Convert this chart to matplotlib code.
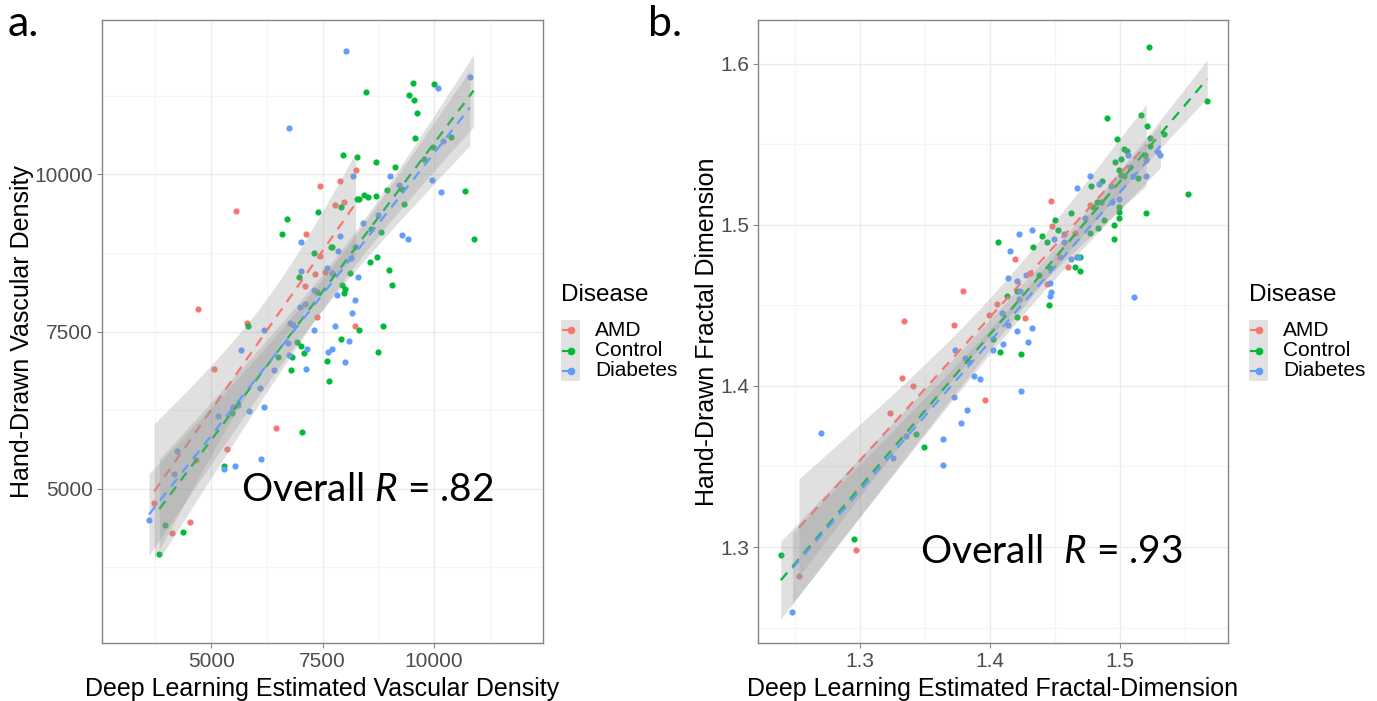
import numpy as np
import matplotlib
matplotlib.use('Agg')
import matplotlib.pyplot as plt
from matplotlib.lines import Line2D
from matplotlib.patches import Rectangle

plt.rcParams['font.family'] = ['Liberation Sans', 'DejaVu Sans']
plt.rcParams['mathtext.fontset'] = 'custom'
plt.rcParams['mathtext.rm'] = 'Lato'
plt.rcParams['mathtext.it'] = 'Lato:italic'

groups = ['AMD', 'Control', 'Diabetes']
colors = ['#F8766D', '#00BA38', '#619CFF']

# panel a: vascular density (deep learning vs hand drawn)
amd_vd_dl = [8243, 7898, 7439, 5547, 7777, 7973, 7133, 7448, 7342, 7545, 7101, 4714, 5804,
             7387, 8227, 5068, 6464, 5360, 4662, 3723, 4113, 4527]
amd_vd_hd = [10063, 9899, 9820, 9417, 9512, 9555, 9042, 8693, 8412, 8439, 8222, 7861, 7639,
             7730, 7592, 6904, 5968, 5630, 5460, 4773, 4297, 4471]
ctl_vd_dl = [9527, 10007, 8469, 9449, 9556, 9632, 9577, 10382, 9970, 9780, 7950, 8265, 8709,
             9121, 8941, 9287, 9324, 10691, 10893, 8430, 8520, 8700, 8281, 8318, 7921, 7394,
             6696, 6583, 8596, 8822, 7697, 7720, 7304, 8123, 6970, 8558, 8716, 8993, 9069,
             7943, 8002, 7973, 7380, 8851, 8310, 5817, 7905, 6930, 7011, 7087, 6817, 6493,
             6795, 7597, 7657, 8738, 7034, 5473, 5293, 4376, 3971, 3836]
ctl_vd_hd = [11448, 11427, 11300, 11252, 11184, 10978, 10575, 10586, 10428, 10248, 10306,
             10274, 10190, 10115, 9756, 9761, 9523, 9740, 8968, 9677, 9640, 9650, 9598, 9598,
             9482, 9392, 9285, 9052, 9126, 9089, 8836, 8836, 8746, 8423, 8370, 8608, 8677,
             8471, 8233, 8243, 8169, 8106, 8132, 7582, 7523, 7587, 7376, 7338, 7269, 7153,
             7095, 7090, 6888, 7026, 6714, 7169, 5909, 6206, 5365, 4307, 4418, 3957]
dia_vd_dl = [8018, 6757, 10810, 10083, 8175, 10195, 9009, 9219, 9948, 10157, 8738, 8400, 7898,
             7020, 7838, 8220, 9287, 9414, 7027, 7597, 7709, 8137, 8288, 7320, 7815, 8236,
             7004, 7117, 8160, 6779, 6847, 6187, 7313, 7777, 5676, 6734, 6750, 6403, 7162,
             7628, 7709, 8092, 8002, 7124, 6097, 5480, 5608, 5164, 5840, 6194, 6119, 5540,
             5286, 4234, 4167, 3604]
dia_vd_hd = [11951, 10734, 11543, 11375, 9967, 10523, 9967, 9835, 9914, 9724, 9348, 9231,
             9025, 8925, 8787, 8845, 9036, 8968, 8460, 8513, 8428, 8661, 8360, 8158, 8084,
             8000, 7883, 7931, 7788, 7640, 7602, 7530, 7530, 7593, 7211, 7312, 7131, 6888,
             7216, 7174, 7226, 7342, 7020, 6908, 6608, 6297, 6338, 6154, 6243, 6297, 5476,
             5360, 5313, 5603, 5238, 4497]

# panel b: fractal dimension
amd_fd_dl = [1.447, 1.448, 1.419, 1.465, 1.454, 1.460, 1.477, 1.520, 1.431, 1.444, 1.379,
             1.399, 1.405, 1.427, 1.372, 1.334, 1.332, 1.341, 1.323, 1.396, 1.297, 1.253]
amd_fd_hd = [1.515, 1.499, 1.479, 1.495, 1.480, 1.474, 1.512, 1.540, 1.470, 1.463, 1.459,
             1.444, 1.451, 1.442, 1.438, 1.440, 1.405, 1.400, 1.383, 1.391, 1.298, 1.282]
ctl_fd_dl = [1.522, 1.567, 1.490, 1.516, 1.521, 1.523, 1.534, 1.498, 1.503, 1.505, 1.496,
             1.501, 1.499, 1.501, 1.503, 1.523, 1.519, 1.514, 1.486, 1.478, 1.479, 1.482,
             1.485, 1.488, 1.483, 1.477, 1.499, 1.499, 1.499, 1.495, 1.495, 1.520, 1.552,
             1.462, 1.450, 1.452, 1.440, 1.444, 1.433, 1.406, 1.467, 1.469, 1.465, 1.469,
             1.446, 1.438, 1.413, 1.421, 1.445, 1.421, 1.4025, 1.408, 1.424, 1.343, 1.349,
             1.295, 1.239]
ctl_fd_hd = [1.610, 1.577, 1.566, 1.568, 1.561, 1.554, 1.556, 1.553, 1.547, 1.546, 1.539,
             1.541, 1.534, 1.531, 1.530, 1.549, 1.543, 1.529, 1.527, 1.524, 1.511, 1.514,
             1.514, 1.503, 1.498, 1.495, 1.511, 1.508, 1.504, 1.500, 1.491, 1.507, 1.519,
             1.507, 1.503, 1.497, 1.493, 1.489, 1.486, 1.489, 1.480, 1.480, 1.474, 1.471,
             1.473, 1.469, 1.456, 1.459, 1.450, 1.443, 1.429, 1.421, 1.420, 1.370, 1.362,
             1.305, 1.295]
dia_fd_dl = [1.511, 1.520, 1.531, 1.529, 1.506, 1.508, 1.510, 1.484, 1.493, 1.499, 1.494,
             1.477, 1.467, 1.473, 1.457, 1.457, 1.449, 1.432, 1.422, 1.415, 1.462, 1.468,
             1.428, 1.421, 1.414, 1.446, 1.447, 1.446, 1.423, 1.422, 1.409, 1.414, 1.421,
             1.432, 1.410, 1.429, 1.373, 1.381, 1.384, 1.402, 1.424, 1.388, 1.392, 1.372,
             1.382, 1.378, 1.364, 1.364, 1.335, 1.325, 1.270, 1.248]
dia_fd_hd = [1.455, 1.530, 1.543, 1.545, 1.543, 1.536, 1.530, 1.525, 1.524, 1.516, 1.514,
             1.530, 1.523, 1.504, 1.494, 1.489, 1.491, 1.497, 1.494, 1.484, 1.479, 1.480,
             1.469, 1.465, 1.467, 1.464, 1.458, 1.456, 1.459, 1.454, 1.445, 1.438, 1.434,
             1.436, 1.426, 1.427, 1.422, 1.417, 1.415, 1.422, 1.397, 1.406, 1.404, 1.393,
             1.385, 1.377, 1.367, 1.351, 1.369, 1.355, 1.371, 1.260]

vd_ticks = [5000, 7500, 10000]
vd_labels = ['5000', '7500', '10000']
fd_ticks = [1.3, 1.4, 1.5, 1.6]
fd_labels = ['1.3', '1.4', '1.5', '1.6']

W, H = 1377, 701


def t975(df):
    # Cornish-Fisher approx of t quantile
    z = 1.959964
    return z + (z**3 + z) / (4 * df) + (5 * z**5 + 16 * z**3 + 3 * z) / (96 * df**2)


def smooth(ax, x, y, color, k):
    x = np.asarray(x, float)
    y = np.asarray(y, float)
    n = len(x)
    b, a = np.polyfit(x, y, 1)
    xs = np.linspace(x.min(), x.max(), 80)
    fit = a + b * xs
    s = np.sqrt(((y - (a + b * x))**2).sum() / (n - 2))
    se = s * np.sqrt(1 / n + (xs - x.mean())**2 / ((x - x.mean())**2).sum())
    t = t975(n - 2)
    ax.fill_between(xs, fit - t * se, fit + t * se, color='#999999', alpha=0.3, lw=0,
                    zorder=3 + 2 * k)
    ax.plot(xs, fit, color=color, lw=1.6, dashes=(4.5, 3.5), zorder=4 + 2 * k)


def style(ax, xt, xl, yt, yl, xminor, yminor):
    ax.set_xticks(xt)
    ax.set_xticklabels(xl)
    ax.set_yticks(yt)
    ax.set_yticklabels(yl)
    ax.set_xticks(xminor, minor=True)
    ax.set_yticks(yminor, minor=True)
    ax.grid(which='major', color='#ebebeb', lw=1.0, zorder=0)
    ax.grid(which='minor', color='#f4f4f4', lw=0.8, zorder=0)
    ax.set_axisbelow(True)
    ax.tick_params(which='major', length=3.5, width=0.8, color='#8a8a8a',
                   labelsize=15, labelcolor='#4d4d4d', pad=3)
    ax.tick_params(which='minor', length=0)
    for sp in ax.spines.values():
        sp.set_color('#858585')
        sp.set_linewidth(1.0)


def legend(x0):
    fx = lambda p: p / W
    fy = lambda p: 1 - p / H
    fig.text(fx(x0), fy(295), 'Disease', fontsize=17.5, va='center', ha='left')
    fig.add_artist(Rectangle((fx(x0), fy(381)), 19 / W, 61 / H, transform=fig.transFigure,
                             facecolor='#d9d9d9', edgecolor='none', alpha=0.75))
    for i, g in enumerate(groups):
        yy = 330 + 20.5 * i
        fig.add_artist(Line2D([fx(x0 + 2), fx(x0 + 12)], [fy(yy), fy(yy)], color=colors[i],
                              lw=1.5, transform=fig.transFigure))
        fig.add_artist(Line2D([fx(x0 + 10)], [fy(yy)], marker='o', markersize=4.5,
                              color=colors[i], lw=0, transform=fig.transFigure))
        fig.text(fx(x0 + 34), fy(yy), g, fontsize=15, va='center', ha='left')


fig = plt.figure(figsize=(13.77, 7.01), dpi=100)
axA = fig.add_axes([102 / W, 1 - 643 / H, 441 / W, 623 / H])
axB = fig.add_axes([758 / W, 1 - 643 / H, 470 / W, 623 / H])

vd = [(amd_vd_dl, amd_vd_hd), (ctl_vd_dl, ctl_vd_hd), (dia_vd_dl, dia_vd_hd)]
fd = [(amd_fd_dl, amd_fd_hd), (ctl_fd_dl, ctl_fd_hd), (dia_fd_dl, dia_fd_hd)]

for ax, data in [(axA, vd), (axB, fd)]:
    for k, (x, y) in enumerate(data):
        ax.scatter(x, y, s=20, color=colors[k], linewidths=0, zorder=2)
    for k, (x, y) in enumerate(data):
        smooth(ax, x, y, colors[k], k)

axA.set_xlim(2550, 12450)
axA.set_ylim(2550, 12450)
style(axA, vd_ticks, vd_labels, vd_ticks, vd_labels,
      [3750, 6250, 8750, 11250], [3750, 6250, 8750, 11250])
axA.set_xlabel('Deep Learning Estimated Vascular Density', fontsize=18)
axA.set_ylabel('Hand-Drawn Vascular Density', fontsize=18)
axA.xaxis.set_label_coords(0.5, -0.074)
axA.xaxis.label.set_va('center')
axA.yaxis.set_label_coords(-0.181, 0.5)
axA.yaxis.label.set_va('center')
axA.text(8513, 4984, r'Overall $R$ = .82', fontsize=28, family='Lato', ha='center',
         va='center', zorder=20)

axB.set_xlim(1.2215, 1.583)
axB.set_ylim(1.2405, 1.627)
style(axB, fd_ticks[:3], fd_labels[:3], fd_ticks, fd_labels,
      [1.25, 1.35, 1.45, 1.55], [1.25, 1.35, 1.45, 1.55])
axB.set_xlabel('Deep Learning Estimated Fractal-Dimension', fontsize=18)
axB.set_ylabel('Hand-Drawn Fractal Dimension', fontsize=18)
axB.xaxis.set_label_coords(0.5, -0.074)
axB.xaxis.label.set_va('center')
axB.yaxis.set_label_coords(-0.1085, 0.5)
axB.yaxis.label.set_va('center')
axB.text(1.447, 1.297, r'Overall  $R$ = .93', fontsize=28, family='Lato', ha='center',
         va='center', zorder=20)

legend(561)
legend(1249)

fig.text(8 / W, 1 - 24 / H, 'a.', fontsize=31, family='Lato', va='center', ha='left')
fig.text(648 / W, 1 - 24 / H, 'b.', fontsize=31, family='Lato', va='center', ha='left')

fig.savefig('out.png', dpi=100)
